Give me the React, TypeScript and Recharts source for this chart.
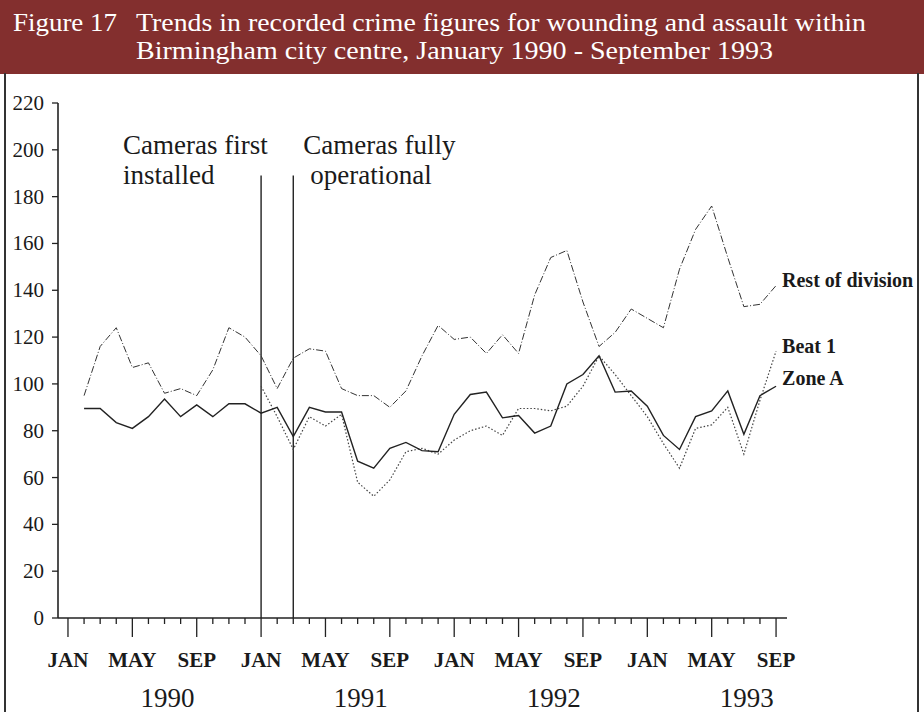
import { LineChart, Line, XAxis, YAxis, ReferenceLine, LabelList } from "recharts"

const serif = "'Liberation Serif', 'Times New Roman', serif"

// month index 0 = Jan 1990 ... 44 = Sep 1993
const restOfDivision = [
  null, 95, 116, 124, 107, 109, 96, 98, 95, 106, 124, 120,
  112, 98, 111, 115, 114, 98, 95, 95, 90, 97, 112, 125,
  119, 120, 113, 121, 113, 138, 154, 157, 135, 116, 122, 132,
  128, 124, 149, 166, 176, 154, 133, 134, 142,
]

const beat1 = [
  null, null, null, null, null, null, null, null, null, null, null, null,
  99, 86, 72, 86, 82, 87, 58, 52, 59, 71, 72.5, 70,
  76, 80, 82, 78, 89.5, 89.5, 88.5, 90.5, 99, 112, 104, 95,
  86, 74.5, 64, 81, 82.5, 90, 70, 93, 114,
]

const zoneA = [
  null, 89.5, 89.5, 83.5, 81, 86, 93.5, 86, 91, 86, 91.5, 91.5,
  87.5, 90, 77.5, 90, 88, 88, 67, 64, 72.5, 75, 71.5, 71,
  87, 95.5, 96.5, 85.5, 86.5, 79, 82, 100, 104, 112, 96.5, 97,
  90.5, 78, 72, 86, 88.5, 97, 78.5, 95, 99,
]

const monthNames = ["JAN", "FEB", "MAR", "APR", "MAY", "JUN", "JUL", "AUG", "SEP", "OCT", "NOV", "DEC"]
const yearLabels = ["1990", "1991", "1992", "1993"]
const yTicks = [0, 20, 40, 60, 80, 100, 120, 140, 160, 180, 200, 220]
const monthTicks = restOfDivision.map((_, i) => i)

const camerasInstalled = 12
const camerasOperational = 14
const markerTop = 189

const data = restOfDivision.map((v, i) => ({
  m: i,
  rest: v,
  beat: beat1[i],
  zone: zoneA[i],
}))

const lastIndex = data.length - 1

function MonthTick(props: any) {
  const { x, y, payload } = props
  const m = payload.value
  const major = m % 4 === 0
  return (
    <g>
      <line x1={x} x2={x} y1={y} y2={y + (major ? 19 : 6)} stroke="#222" strokeWidth={1.3} />
      {major && (
        <text x={x} y={y + 49} textAnchor="middle" fontSize={21} fontWeight="bold" fill="#1a1a1a" fontFamily={serif}>
          {monthNames[m % 12]}
        </text>
      )}
      {m % 12 === 6 && (
        <text x={x + 3} y={y + 89} textAnchor="middle" fontSize={27} fill="#1a1a1a" fontFamily={serif}>
          {yearLabels[Math.floor(m / 12)]}
        </text>
      )}
    </g>
  )
}

function ValueTick(props: any) {
  const { x, y, payload } = props
  return (
    <text x={x} y={y + 7} textAnchor="end" fontSize={21} fill="#1a1a1a" fontFamily={serif}>
      {payload.value}
    </text>
  )
}

const endLabel = (name: string, dy: number) => (props: any) => {
  if (props.index !== lastIndex) return null
  return (
    <text x={props.x + 6} y={props.y + dy} fontSize={20} fontWeight="bold" fill="#1a1a1a" fontFamily={serif}>
      {name}
    </text>
  )
}

const cameraLabel = (lines: string[], dx: number[]) => (props: any) => {
  const vb = props.viewBox
  return (
    <g>
      <text x={vb.x + dx[0]} y={vb.y - 22} fontSize={27} fill="#1a1a1a" fontFamily={serif}>{lines[0]}</text>
      <text x={vb.x + dx[1]} y={vb.y + 8} fontSize={27} fill="#1a1a1a" fontFamily={serif}>{lines[1]}</text>
    </g>
  )
}

export default function App() {
  return (
    <div style={{ position: "absolute", left: 0, top: 0, width: 924, height: 712, background: "#fff", overflow: "hidden" }}>
      <svg width={924} height={74} style={{ position: "absolute", left: 0, top: 0 }}>
        <rect x={0} y={0} width={924} height={74} fill="#832F2E" />
        <text x={13} y={31} fontSize={26} fill="#fff" fontFamily={serif} textLength={104} lengthAdjust="spacingAndGlyphs">
          Figure 17
        </text>
        <text x={136} y={31} fontSize={26} fill="#fff" fontFamily={serif} textLength={730} lengthAdjust="spacingAndGlyphs">
          Trends in recorded crime figures for wounding and assault within
        </text>
        <text x={136} y={59} fontSize={26} fill="#fff" fontFamily={serif} textLength={637} lengthAdjust="spacingAndGlyphs">
          Birmingham city centre, January 1990 - September 1993
        </text>
      </svg>
      <div style={{ position: "absolute", left: 4, top: 73, width: 2, height: 640, background: "#333" }} />
      <div style={{ position: "absolute", left: 917, top: 73, width: 2, height: 640, background: "#333" }} />
      <div style={{ position: "absolute", left: 0, top: 0 }}>
        <LineChart width={924} height={712} data={data} margin={{ top: 103, right: 137, bottom: 0, left: 8 }}>
          <XAxis
            dataKey="m"
            type="number"
            domain={[-0.62, 44.68]}
            ticks={monthTicks}
            interval={0}
            height={94}
            tickSize={0}
            tickMargin={0}
            tickLine={false}
            axisLine={{ stroke: "#222", strokeWidth: 1.6 }}
            tick={<MonthTick />}
          />
          <YAxis
            domain={[0, 220]}
            ticks={yTicks}
            interval={0}
            width={50}
            tickSize={6}
            tickMargin={8}
            tickLine={{ stroke: "#222", strokeWidth: 1.3 }}
            axisLine={{ stroke: "#222", strokeWidth: 1.6 }}
            tick={<ValueTick />}
          />
          <ReferenceLine
            segment={[{ x: camerasInstalled, y: 0 }, { x: camerasInstalled, y: markerTop }]}
            stroke="#222"
            strokeWidth={1.4}
            label={cameraLabel(["Cameras first", "installed"], [-138, -138])}
          />
          <ReferenceLine
            segment={[{ x: camerasOperational, y: 0 }, { x: camerasOperational, y: markerTop }]}
            stroke="#222"
            strokeWidth={1.4}
            label={cameraLabel(["Cameras fully", "operational"], [10, 17])}
          />
          <Line
            dataKey="rest"
            stroke="#333"
            strokeWidth={1}
            strokeDasharray="7 2 1 2"
            dot={false}
            activeDot={false}
            isAnimationActive={false}
          >
            <LabelList dataKey="rest" content={endLabel("Rest of division", 1)} />
          </Line>
          <Line
            dataKey="beat"
            stroke="#444"
            strokeWidth={1.2}
            strokeDasharray="1.5 2"
            dot={false}
            activeDot={false}
            isAnimationActive={false}
          >
            <LabelList dataKey="beat" content={endLabel("Beat 1", 2)} />
          </Line>
          <Line
            dataKey="zone"
            stroke="#222"
            strokeWidth={1.4}
            dot={false}
            activeDot={false}
            isAnimationActive={false}
          >
            <LabelList dataKey="zone" content={endLabel("Zone A", -1)} />
          </Line>
        </LineChart>
      </div>
    </div>
  )
}
